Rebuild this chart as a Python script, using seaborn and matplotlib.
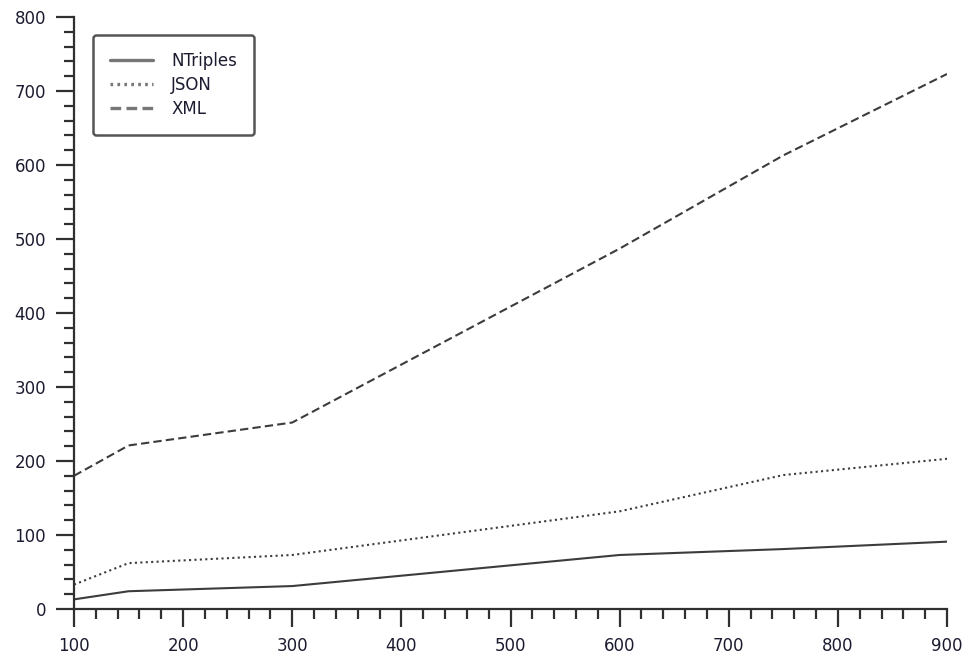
import numpy as np
import pandas as pd
import seaborn as sns
import matplotlib
matplotlib.use("Agg")
import matplotlib.pyplot as plt
from matplotlib.lines import Line2D
from matplotlib.ticker import MultipleLocator

# Serialization timings per format
sizes = [100, 150, 300, 600, 750, 900]
ntriples = [13, 24, 31, 73, 81, 91]
json_vals = [33, 62, 73, 132, 181, 203]
xml_vals = [180, 221, 252, 487, 613, 723]
formats = ["NTriples", "JSON", "XML"]

df = pd.DataFrame({
    "size": sizes * 3,
    "value": ntriples + json_vals + xml_vals,
    "format": [f for f in formats for _ in sizes],
})

sns.set_theme(style="ticks")
plt.rcParams["font.family"] = ["DejaVu Sans"]

line_color = "#3c3c3c"
text_color = "#1c1c30"
dash_map = {"NTriples": "", "JSON": (1, 1.6), "XML": (4, 2)}

fig = plt.figure(figsize=(9.71, 6.63), dpi=100)
ax = fig.add_axes([74 / 971, 1 - 609 / 663, 873 / 971, 592 / 663])

sns.lineplot(data=df, x="size", y="value", style="format", style_order=formats,
             dashes=dash_map, color=line_color, linewidth=1.5, legend=False, ax=ax)

ax.set_xlim(100, 900)
ax.set_ylim(0, 800)
ax.set_xlabel("")
ax.set_ylabel("")

ax.xaxis.set_major_locator(MultipleLocator(100))
ax.xaxis.set_minor_locator(MultipleLocator(20))
ax.yaxis.set_major_locator(MultipleLocator(100))
ax.yaxis.set_minor_locator(MultipleLocator(20))

for side in ["top", "right"]:
    ax.spines[side].set_visible(False)
for side in ["left", "bottom"]:
    ax.spines[side].set_color("#303030")
    ax.spines[side].set_linewidth(1.6)

ax.tick_params(which="major", direction="out", length=13, width=1.6,
               color="#303030", labelsize=12, labelcolor=text_color, pad=7)
ax.tick_params(which="minor", direction="out", length=7, width=1.6, color="#303030")

handles = [Line2D([], [], color="#777777", linewidth=2.4,
                  linestyle=(0, (dash_map[f][0] * 0.8, dash_map[f][1] * 0.8)) if dash_map[f] else "-")
           for f in formats]
leg = ax.legend(handles, formats, loc="upper left",
                bbox_to_anchor=((93 - 74) / 873, (609 - 35) / 592),
                borderaxespad=0, fontsize=12, handlelength=2.6,
                handletextpad=1.1, labelspacing=0.38, borderpad=1.0,
                handleheight=0.7, frameon=True, fancybox=True,
                labelcolor=text_color)
frame = leg.get_frame()
frame.set_edgecolor("#555555")
frame.set_linewidth(1.8)
frame.set_facecolor("white")
frame.set_alpha(1)

fig.savefig("out.png", dpi=100)
